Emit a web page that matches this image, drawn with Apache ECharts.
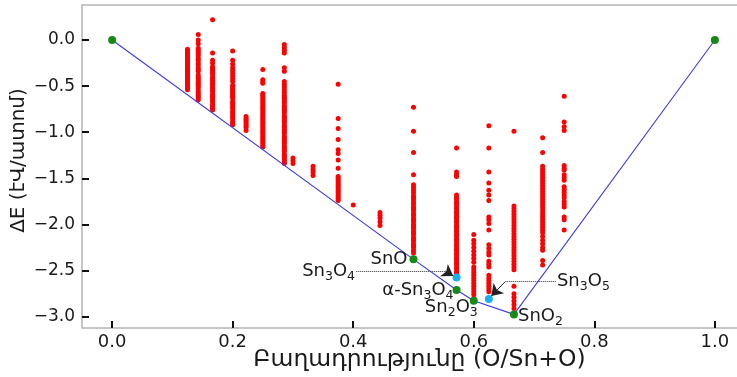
<!DOCTYPE html>
<html><head><meta charset="utf-8">
<script src="https://cdn.jsdelivr.net/npm/echarts@6/dist/echarts.min.js"></script>
<style>html,body{margin:0;padding:0;background:#fff}#c{width:737px;height:377px}</style>
</head><body><div id="c"></div>
<script>
// ---- data ----
const xTicks = [0, 0.2, 0.4, 0.6, 0.8, 1.0];
const yTicks = [-3, -2.5, -2, -1.5, -1, -0.5, 0];

// compositions O/(Sn+O) of the computed structures
const redX = [1/8, 1/7, 1/6, 1/5, 2/9, 1/4, 2/7, 3/10, 1/3, 3/8, 2/5, 4/9, 1/2, 4/7, 3/5, 5/8, 2/3, 5/7, 3/4];
// formation energies (eV/atom) of every structure at each composition
const redY = [
  [-0.10,-0.12,-0.14,-0.16,-0.18,-0.20,-0.22,-0.24,-0.26,-0.28,-0.30,-0.32,-0.34,-0.36,-0.38,-0.40,-0.42,-0.44,-0.46,-0.48,-0.50,-0.52,-0.54],
  [0.06,0.00,-0.04,-0.09,-0.11,-0.13,-0.15,-0.17,-0.20,-0.22,-0.25,-0.27,-0.30,-0.32,-0.34,-0.38,-0.40,-0.42,-0.44,-0.46,-0.48,-0.50,-0.52,-0.55,-0.57,-0.59,-0.61,-0.63,-0.65],
  [0.22,-0.14,-0.22,-0.25,-0.29,-0.31,-0.33,-0.35,-0.37,-0.40,-0.42,-0.44,-0.46,-0.48,-0.50,-0.52,-0.54,-0.56,-0.59,-0.61,-0.63,-0.65,-0.67,-0.70,-0.72,-0.74,-0.76],
  [-0.12,-0.22,-0.26,-0.30,-0.33,-0.36,-0.39,-0.42,-0.45,-0.49,-0.51,-0.53,-0.55,-0.57,-0.59,-0.61,-0.63,-0.66,-0.68,-0.70,-0.72,-0.74,-0.77,-0.79,-0.81,-0.83,-0.85,-0.88,-0.90,-0.92],
  [-0.83,-0.85,-0.87,-0.89,-0.91,-0.93,-0.95,-0.98],
  [-0.32,-0.43,-0.45,-0.47,-0.58,-0.60,-0.62,-0.64,-0.66,-0.68,-0.70,-0.72,-0.74,-0.76,-0.78,-0.80,-0.82,-0.84,-0.86,-0.88,-0.90,-0.92,-0.94,-0.96,-0.98,-1.00,-1.02,-1.04,-1.06,-1.08,-1.10,-1.12,-1.14,-1.16],
  [-0.05,-0.08,-0.11,-0.14,-0.30,-0.34,-0.45,-0.48,-0.51,-0.54,-0.57,-0.60,-0.62,-0.64,-0.66,-0.68,-0.71,-0.73,-0.75,-0.77,-0.79,-0.82,-0.84,-0.86,-0.88,-0.90,-0.93,-0.95,-0.97,-0.99,-1.01,-1.04,-1.06,-1.08,-1.10,-1.12,-1.15,-1.17,-1.19,-1.21,-1.24,-1.26,-1.28,-1.30,-1.32,-1.34],
  [-1.28,-1.31,-1.34],
  [-1.37,-1.40,-1.43,-1.47],
  [-0.48,-0.85,-0.96,-1.08,-1.19,-1.23,-1.30,-1.39,-1.48,-1.50,-1.52,-1.54,-1.56,-1.58,-1.60,-1.62,-1.64,-1.66,-1.68,-1.70,-1.72,-1.74],
  [-1.79],
  [-1.87,-1.90,-1.93,-1.97,-2.01],
  [-0.73,-0.99,-1.22,-1.46,-1.57,-1.60,-1.63,-1.66,-1.69,-1.71,-1.73,-1.76,-1.78,-1.81,-1.83,-1.85,-1.88,-1.90,-1.93,-1.95,-1.97,-2.00,-2.02,-2.04,-2.07,-2.09,-2.11,-2.14,-2.16,-2.18,-2.21,-2.23,-2.25,-2.28,-2.31],
  [-1.17,-1.43,-1.46,-1.48,-1.68,-1.71,-1.73,-1.76,-1.78,-1.81,-1.83,-1.86,-1.88,-1.91,-1.93,-1.96,-1.98,-2.01,-2.03,-2.06,-2.08,-2.11,-2.13,-2.16,-2.18,-2.21,-2.23,-2.26,-2.28,-2.31,-2.33,-2.36,-2.38,-2.41,-2.43,-2.46,-2.48,-2.51,-2.53],
  [-2.11,-2.17,-2.21,-2.25,-2.29,-2.33,-2.37,-2.41,-2.46,-2.49,-2.52,-2.55,-2.58,-2.61,-2.64,-2.67,-2.70,-2.73,-2.76,-2.80],
  [-0.93,-1.17,-1.43,-1.55,-1.63,-1.68,-1.74,-1.92,-1.95,-1.99,-2.06,-2.22,-2.26,-2.30,-2.33,-2.40,-2.43,-2.46,-2.55,-2.58,-2.61,-2.64,-2.67,-2.70,-2.73],
  [-0.99,-1.80,-1.83,-1.86,-1.89,-1.92,-1.95,-1.98,-2.01,-2.04,-2.07,-2.10,-2.13,-2.16,-2.19,-2.22,-2.25,-2.28,-2.31,-2.34,-2.37,-2.40,-2.43,-2.46,-2.49,-2.67,-2.75,-2.79,-2.83,-2.87,-2.91],
  [-1.06,-1.22,-1.37,-1.40,-1.43,-1.46,-1.49,-1.52,-1.55,-1.58,-1.61,-1.64,-1.67,-1.70,-1.73,-1.76,-1.79,-1.82,-1.85,-1.88,-1.91,-1.94,-1.97,-2.00,-2.03,-2.06,-2.09,-2.13,-2.17,-2.21,-2.25,-2.28,-2.39,-2.44],
  [-0.61,-0.89,-0.94,-0.98,-1.36,-1.39,-1.41,-1.46,-1.49,-1.52,-1.59,-1.62,-1.65,-1.68,-1.71,-1.75,-1.78,-1.81,-1.92,-1.95,-2.06]
];

// convex hull vertices
const hullX = [0, 1/2, 4/7, 3/5, 2/3, 1];
const hullY = [0, -2.378, -2.711, -2.828, -2.975, 0];
const hullNames = ['', 'SnO', 'α-Sn{s|3}O{s|4}', 'Sn{s|2}O{s|3}', 'SnO{s|2}', ''];

// metastable phases (cyan)
const metaX = [4/7, 5/8];
const metaY = [-2.574, -2.809];
const metaNames = ['Sn{s|3}O{s|4}', 'Sn{s|3}O{s|5}'];

// annotation text anchors (data coords), leader lines and arrow segments
const annX = [0.403, 0.738];
const annY = [-2.505, -2.621];
const leaderLines = [
  [[0.405, -2.505], [0.553, -2.505]],
  [[0.736, -2.621], [0.652, -2.621]]
];
const arrowSegs = [
  [[0.553, -2.505], [0.566, -2.558]],
  [[0.652, -2.621], [0.629, -2.776]]
];

// ---- styling ----
const FONT = 'DejaVu Sans';
const TXT = '#1a1a1a';
const rich = { s: { fontSize: 12.5, lineHeight: 12, verticalAlign: 'bottom', fontFamily: FONT, color: TXT } };
const baseLabel = { show: true, fontFamily: FONT, fontSize: 18, lineHeight: 24, color: TXT, rich: rich };
const hullLabelCfg = [
  null,
  { position: 'left', distance: 2, offset: [0, 0] },
  { position: 'left', distance: 0, offset: [1, 0] },
  { position: 'left', distance: 0, offset: [8, 6] },
  { position: 'right', distance: 0, offset: [0, 2] },
  null
];
const annLabelCfg = [
  { position: 'left', distance: 0 },
  { position: 'right', distance: 0 }
];

const redData = [];
redX.forEach((x, i) => redY[i].forEach(y => redData.push([x, y])));

const greenData = hullX.map((x, i) => {
  const d = { value: [x, hullY[i]] };
  if (hullNames[i]) d.label = Object.assign({}, baseLabel, hullLabelCfg[i], { formatter: hullNames[i] });
  return d;
});
const annData = annX.map((x, i) => ({
  value: [x, annY[i]],
  label: Object.assign({}, baseLabel, annLabelCfg[i], { formatter: metaNames[i] })
}));

const chart = echarts.init(document.getElementById('c'), null, { renderer: 'canvas' });
chart.setOption({
  animation: false,
  backgroundColor: '#fff',
  grid: { left: 82, top: 5, width: 663, height: 323, outerBoundsMode: 'none', containLabel: false,
          show: true, borderColor: '#b4b4b4', borderWidth: 1.5, backgroundColor: 'transparent' },
  xAxis: {
    type: 'value', min: -0.05, max: 1.05,
    axisLine: { show: false, onZero: false },
    splitLine: { show: false },
    axisTick: { show: true, inside: true, length: 7, customValues: xTicks, lineStyle: { color: '#111', width: 2 } },
    axisLabel: { customValues: xTicks, margin: 5, fontFamily: FONT, fontSize: 18, color: TXT, formatter: v => v.toFixed(1) },
    name: 'Բաղադրությունը (O/Sn+O)', nameLocation: 'middle', nameGap: 20, nameMoveOverlap: false,
    nameTextStyle: { fontFamily: FONT, fontSize: 23.5, color: TXT, padding: [0, 0, 0, 12] }
  },
  yAxis: {
    type: 'value', min: -3.1225, max: 0.3795,
    axisLine: { show: false, onZero: false },
    splitLine: { show: false },
    axisTick: { show: true, inside: true, length: 7, customValues: yTicks, lineStyle: { color: '#111', width: 2 } },
    axisLabel: { customValues: yTicks, margin: 7, fontFamily: FONT, fontSize: 17, color: TXT,
                 formatter: v => (v < 0 ? '\u2212' : '') + Math.abs(v).toFixed(1) },
    name: 'ΔE (էՎ/ատոմ)', nameLocation: 'middle', nameGap: 53, nameMoveOverlap: false,
    nameTextStyle: { fontFamily: FONT, fontSize: 20, color: TXT, padding: [0, 0, 0, 12] }
  },
  series: [
    { type: 'scatter', data: redData, symbolSize: 5, itemStyle: { color: '#ff0000', opacity: 1 }, z: 2, silent: true },
    { type: 'line', data: hullX.map((x, i) => [x, hullY[i]]), showSymbol: false, lineStyle: { color: '#3a3af2', width: 1.1 }, z: 3, silent: true },
    { type: 'lines', coordinateSystem: 'cartesian2d', data: leaderLines.map(p => ({ coords: p })),
      symbol: ['none', 'none'], lineStyle: { type: 'dotted', color: '#333', width: 1, opacity: 1, curveness: 0 }, z: 6, silent: true },
    { type: 'lines', coordinateSystem: 'cartesian2d', data: arrowSegs.map(p => ({ coords: p })),
      symbol: ['none', 'arrow'], symbolSize: [8, 11], lineStyle: { type: 'solid', color: '#222', width: 1, opacity: 1, curveness: 0 }, z: 6, silent: true },
    { type: 'scatter', data: greenData, symbolSize: 8, itemStyle: { color: '#168a16', opacity: 1 }, z: 5, silent: true },
    { type: 'scatter', data: metaX.map((x, i) => [x, metaY[i]]), symbolSize: 8, itemStyle: { color: '#17b2ee', opacity: 1 }, z: 5, silent: true },
    { type: 'scatter', data: annData, symbolSize: 0, itemStyle: { opacity: 1 }, z: 6, silent: true }
  ]
});
</script></body></html>
